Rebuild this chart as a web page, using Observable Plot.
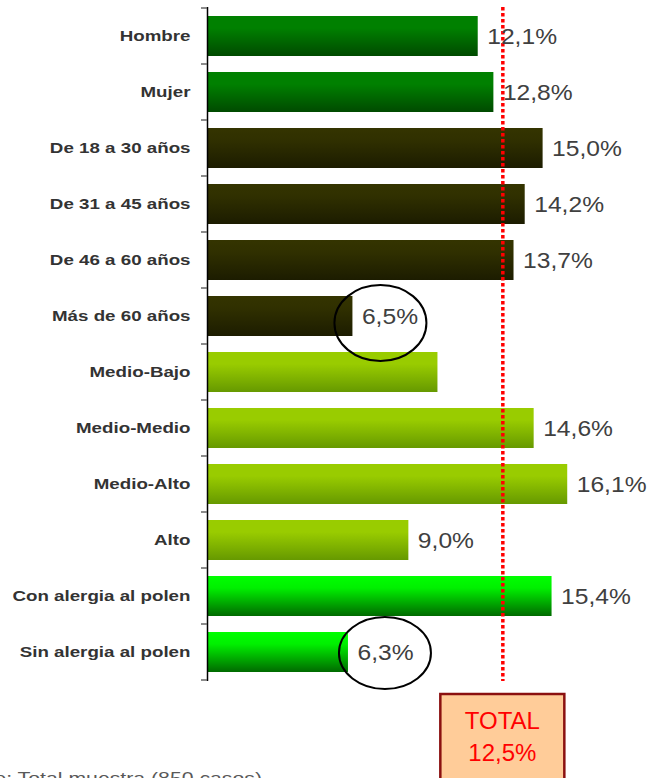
<!DOCTYPE html>
<html><head><meta charset="utf-8">
<script src="https://cdn.jsdelivr.net/npm/d3@7"></script>
<script src="https://cdn.jsdelivr.net/npm/@observablehq/plot@0.6"></script>
<style>html,body{margin:0;padding:0;background:#fff;overflow:hidden} svg{display:block}</style>
</head><body><div id="chart"></div>
<script>
const categories = ["Hombre","Mujer","De 18 a 30 años","De 31 a 45 años","De 46 a 60 años","Más de 60 años","Medio-Bajo","Medio-Medio","Medio-Alto","Alto","Con alergia al polen","Sin alergia al polen"];
const values = [12.1,12.8,15.0,14.2,13.7,6.5,10.3,14.6,16.1,9.0,15.4,6.3];
const valueLabels = ["12,1%","12,8%","15,0%","14,2%","13,7%","6,5%","","14,6%","16,1%","9,0%","15,4%","6,3%"];
const groups = ["sexo","sexo","edad","edad","edad","edad","clase","clase","clase","clase","alergia","alergia"];
const highlighted = ["Más de 60 años","Sin alergia al polen"];
const totalTitle = "TOTAL";
const totalLabel = "12,5%";
const totalLinePosition = 13.2;
const baseText = "Base: Total muestra (850 casos)";

const data = categories.map((c,i)=>({category:c, value:values[i], label:valueLabels[i], group:groups[i]}));

const gradStyles = {
  sexo:["#008000","#008000","#004a00"],
  edad:["#343400","#303000","#1c1c00"],
  clase:["#99cc00","#99cc00","#669900"],
  alergia:["#00ff00","#00f000","#006a00"]
};
const ellipseStyle = {
  "Más de 60 años":{dx:28, dy:7, rx:46, ry:38},
  "Sin alergia al polen":{dx:37, dy:1, rx:46, ry:36}
};

const plot = Plot.plot({
  width:650, height:778,
  marginLeft:207, marginRight:0, marginTop:7, marginBottom:97,
  style:{fontFamily:"'Liberation Sans', Arial, sans-serif", background:"#fff", overflow:"visible"},
  x:{domain:[0,19.8], axis:null},
  y:{domain:categories, paddingInner:0.29, paddingOuter:0.145, axis:null},
  color:{type:"identity"},
  marks:[
    Plot.barX(data,{y:"category", x:"value", fill:d=>`url(#grad-${d.group})`}),
    Plot.ruleX([totalLinePosition],{stroke:"#ff0000", strokeWidth:3.5, strokeDasharray:"3.5,2.5"}),
    Plot.ruleX([0],{stroke:"#000", strokeWidth:1.5}),
    Plot.text(data,{y:"category", frameAnchor:"left", text:"category", textAnchor:"end", dx:-17, fontSize:15, fontWeight:"bold", fill:"#333"}),
    Plot.text(data.filter(d=>d.label),{y:"category", x:"value", text:"label", textAnchor:"start", dx:9, fontSize:22, fill:"#404040"})
  ]
});
document.getElementById("chart").appendChild(plot);

const svg = d3.select(plot);
const defs = svg.insert("defs",":first-child");
for (const [k,cols] of Object.entries(gradStyles)) {
  const g = defs.append("linearGradient").attr("id","grad-"+k).attr("x1",0).attr("y1",0).attr("x2",0).attr("y2",1);
  g.append("stop").attr("offset","0%").attr("stop-color",cols[0]);
  g.append("stop").attr("offset","30%").attr("stop-color",cols[1]);
  g.append("stop").attr("offset","100%").attr("stop-color",cols[2]);
}

function stretch(sel, s){
  sel.each(function(){
    const t = this.getAttribute("transform") || "";
    const ax = +(this.getAttribute("x")||0);
    this.setAttribute("transform", `${t} translate(${ax},0) scale(${s},1) translate(${-ax},0)`);
  });
}
const catSet = new Set(categories), labSet = new Set(valueLabels.filter(Boolean));
stretch(svg.selectAll("text").filter(function(){ return catSet.has(this.textContent); }), 1.25);
stretch(svg.selectAll("text").filter(function(){ return labSet.has(this.textContent); }), 1.12);

const xs = plot.scale("x"), ys = plot.scale("y");
const bw = ys.bandwidth;
const step = ys.step || ((ys.range[1]-ys.range[0])/categories.length);
const x0 = xs.apply(0);
const over = svg.append("g");
categories.forEach((c,i)=>{
  const yb = ys.apply(c) - (step-bw)/2;
  over.append("line").attr("x1",x0-6).attr("x2",x0).attr("y1",yb).attr("y2",yb).attr("stroke","#666").attr("stroke-width",1.5);
  if (i===categories.length-1){
    const ye = yb+step;
    over.append("line").attr("x1",x0-6).attr("x2",x0).attr("y1",ye).attr("y2",ye).attr("stroke","#666").attr("stroke-width",1.5);
  }
});
highlighted.forEach(c=>{
  const i = categories.indexOf(c), e = ellipseStyle[c];
  over.append("ellipse").attr("cx", xs.apply(values[i])+e.dx).attr("cy", ys.apply(c)+bw/2+e.dy)
    .attr("rx",e.rx).attr("ry",e.ry).attr("fill","none").attr("stroke","#000").attr("stroke-width",2);
});
const tx = xs.apply(totalLinePosition);
over.append("rect").attr("x",tx-62).attr("y",694).attr("width",124).attr("height",100)
  .attr("fill","#ffcc99").attr("stroke","#8b1010").attr("stroke-width",2.5);
over.append("text").attr("x",tx).attr("y",721).attr("dy","0.35em").attr("text-anchor","middle")
  .attr("font-size",24).attr("fill","#ff0000").text(totalTitle);
over.append("text").attr("x",tx).attr("y",753).attr("dy","0.35em").attr("text-anchor","middle")
  .attr("font-size",24).attr("fill","#ff0000").text(totalLabel);
const bt = over.append("text").attr("x",262).attr("y",784).attr("text-anchor","end")
  .attr("font-size",17).attr("fill","#595959").text(baseText);
stretch(bt, 1.25);
</script>
</body></html>
